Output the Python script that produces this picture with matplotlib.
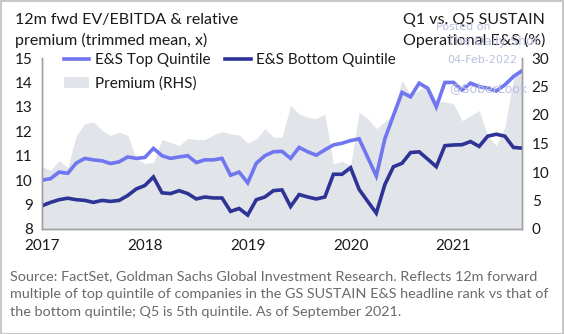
import matplotlib
matplotlib.use("Agg")
import matplotlib.pyplot as plt
from matplotlib.patches import Rectangle
import numpy as np

plt.rcParams['font.family'] = ['Lato', 'DejaVu Sans']

years = ["2017", "2018", "2019", "2020", "2021"]

top_quintile = [10.0, 10.06, 10.33, 10.28, 10.7, 10.89, 10.83, 10.79, 10.68, 10.75,
                10.95, 10.89, 10.93, 11.3, 11.0, 10.89, 10.95, 11.0, 10.72, 10.83,
                10.83, 10.89, 10.2, 10.33, 9.89, 10.69, 11.0, 11.16, 11.18, 10.89,
                11.34, 11.16, 11.02, 11.24, 11.44, 11.51, 11.62, 11.69, 10.93, 10.17,
                11.69, 12.65, 13.59, 13.41, 13.97, 13.76, 13.0, 14.0, 14.0, 13.69,
                13.97, 13.83, 13.76, 13.65, 13.9, 14.24, 14.48]

bottom_quintile = [8.95, 9.09, 9.2, 9.26, 9.2, 9.17, 9.09, 9.17, 9.13, 9.17,
                   9.37, 9.64, 9.78, 10.13, 9.48, 9.45, 9.57, 9.45, 9.23, 9.31,
                   9.27, 9.27, 8.72, 8.84, 8.57, 9.2, 9.31, 9.57, 9.6, 8.92,
                   9.41, 9.31, 9.23, 9.31, 10.24, 10.24, 10.51, 9.62, 9.13, 8.65,
                   9.82, 10.55, 10.69, 11.13, 11.16, 10.86, 10.55, 11.41, 11.44, 11.45,
                   11.58, 11.38, 11.8, 11.88, 11.8, 11.34, 11.31]

premium = [11.0, 10.3, 12.0, 10.8, 16.4, 18.5, 18.8, 17.3, 16.4, 17.0,
           16.4, 12.4, 11.5, 11.7, 15.7, 15.2, 14.6, 15.9, 15.7, 15.7,
           16.5, 17.1, 16.7, 16.5, 15.1, 15.8, 17.6, 16.1, 16.1, 21.7,
           20.2, 19.6, 19.4, 20.2, 11.4, 11.9, 11.1, 20.5, 19.4, 17.6,
           18.8, 20.2, 26.1, 23.5, 24.4, 25.3, 22.6, 22.3, 22.0, 19.0,
           19.9, 20.8, 16.4, 14.6, 17.9, 26.4, 27.6]

months = np.arange(len(top_quintile))

W, H = 564, 334
fig = plt.figure(figsize=(W / 100, H / 100), dpi=100)
fig.patch.set_facecolor("white")

ax = fig.add_axes([42 / W, 1 - 229 / H, 480 / W, 171 / H])
ax2 = ax.twinx()
ax.set_zorder(ax2.get_zorder() + 1)
ax.patch.set_visible(False)

area_col = "#E1E5EA"
top_col = "#6F76F0"
bot_col = "#2E3396"
spine_col = "#A0A0A0"
txt_col = "#1A1A1A"

ax2.fill_between(months, 0, premium, color=area_col, lw=0, label="Premium (RHS)")
ax2.set_ylim(0, 30)
ax2.set_yticks([0, 5, 10, 15, 20, 25, 30])

l1, = ax.plot(months, top_quintile, color=top_col, lw=2.6, label="E&S Top Quintile",
              solid_joinstyle="miter")
l2, = ax.plot(months, bottom_quintile, color=bot_col, lw=2.6, label="E&S Bottom Quintile",
              solid_joinstyle="miter")
ax.set_ylim(8, 15)
ax.set_xlim(0, 56)
ax.set_yticks(range(8, 16))
ax.set_xticks([0, 12, 24, 36, 48])
ax.set_xticklabels(years)

fs = 11
for a in (ax, ax2):
    a.spines["top"].set_visible(False)
    for s in ("left", "right", "bottom"):
        a.spines[s].set_color(spine_col)
        a.spines[s].set_linewidth(1.0)
    a.tick_params(length=0, labelsize=fs, colors=txt_col)
ax.tick_params(axis="y", pad=6.5)
ax.tick_params(axis="x", pad=7)
ax2.tick_params(axis="y", pad=7)

patch = Rectangle((0, 0), 1, 1, color=area_col, lw=0)
leg = fig.legend([l1, patch, l2], ["E&S Top Quintile", "Premium (RHS)", "E&S Bottom Quintile"],
                 ncol=2, loc="upper left", bbox_to_anchor=(64 / W, 1 - 53 / H), frameon=False,
                 fontsize=fs, handlelength=1.65, handletextpad=0.35, columnspacing=1.0,
                 labelspacing=0.62, borderpad=0, borderaxespad=0)
for t in leg.get_texts():
    t.set_color(txt_col)

tfs = 11.5
fig.text(15 / W, 1 - 20 / H, "12m fwd EV/EBITDA & relative", ha="left", va="center",
         fontsize=tfs, color=txt_col)
fig.text(15 / W, 1 - 40 / H, "premium (trimmed mean, x)", ha="left", va="center",
         fontsize=tfs, color=txt_col)
fig.text(545 / W, 1 - 20 / H, "Q1 vs. Q5 SUSTAIN", ha="right", va="center",
         fontsize=tfs, color=txt_col)
fig.text(545 / W, 1 - 40 / H, "Operational E&S (%)", ha="right", va="center",
         fontsize=tfs, color=txt_col)

wm = "#BCC0E0"
fig.text(463 / W, 1 - 27 / H, "Posted on", ha="center", va="center", fontsize=8,
         color=wm, family="DejaVu Sans")
fig.text(493 / W, 1 - 42 / H, "The Daily Shot", ha="center", va="center", fontsize=9,
         color=wm, family="DejaVu Sans")
fig.text(482 / W, 1 - 60 / H, "04-Feb-2022", ha="center", va="center", fontsize=8,
         color=wm, family="DejaVu Sans")
fig.text(488 / W, 1 - 89 / H, "@SoberLook", ha="center", va="center", fontsize=9,
         color=wm, family="DejaVu Sans")

src = ("Source: FactSet, Goldman Sachs Global Investment Research. Reflects 12m forward\n"
       "multiple of top quintile of companies in the GS SUSTAIN E&S headline rank vs that of\n"
       "the bottom quintile; Q5 is 5th quintile. As of September 2021.")
fig.text(10 / W, 1 - 270 / H, src, ha="left", va="top", fontsize=10.4, color="#6A6A6A",
         linespacing=1.58)

fig.add_artist(Rectangle((0.5 / W, 0.5 / H), 1 - 1.5 / W, 1 - 1.5 / H, transform=fig.transFigure,
                         fill=False, edgecolor="#C8C8C8", lw=1.5))

fig.savefig("out.png", dpi=100)
